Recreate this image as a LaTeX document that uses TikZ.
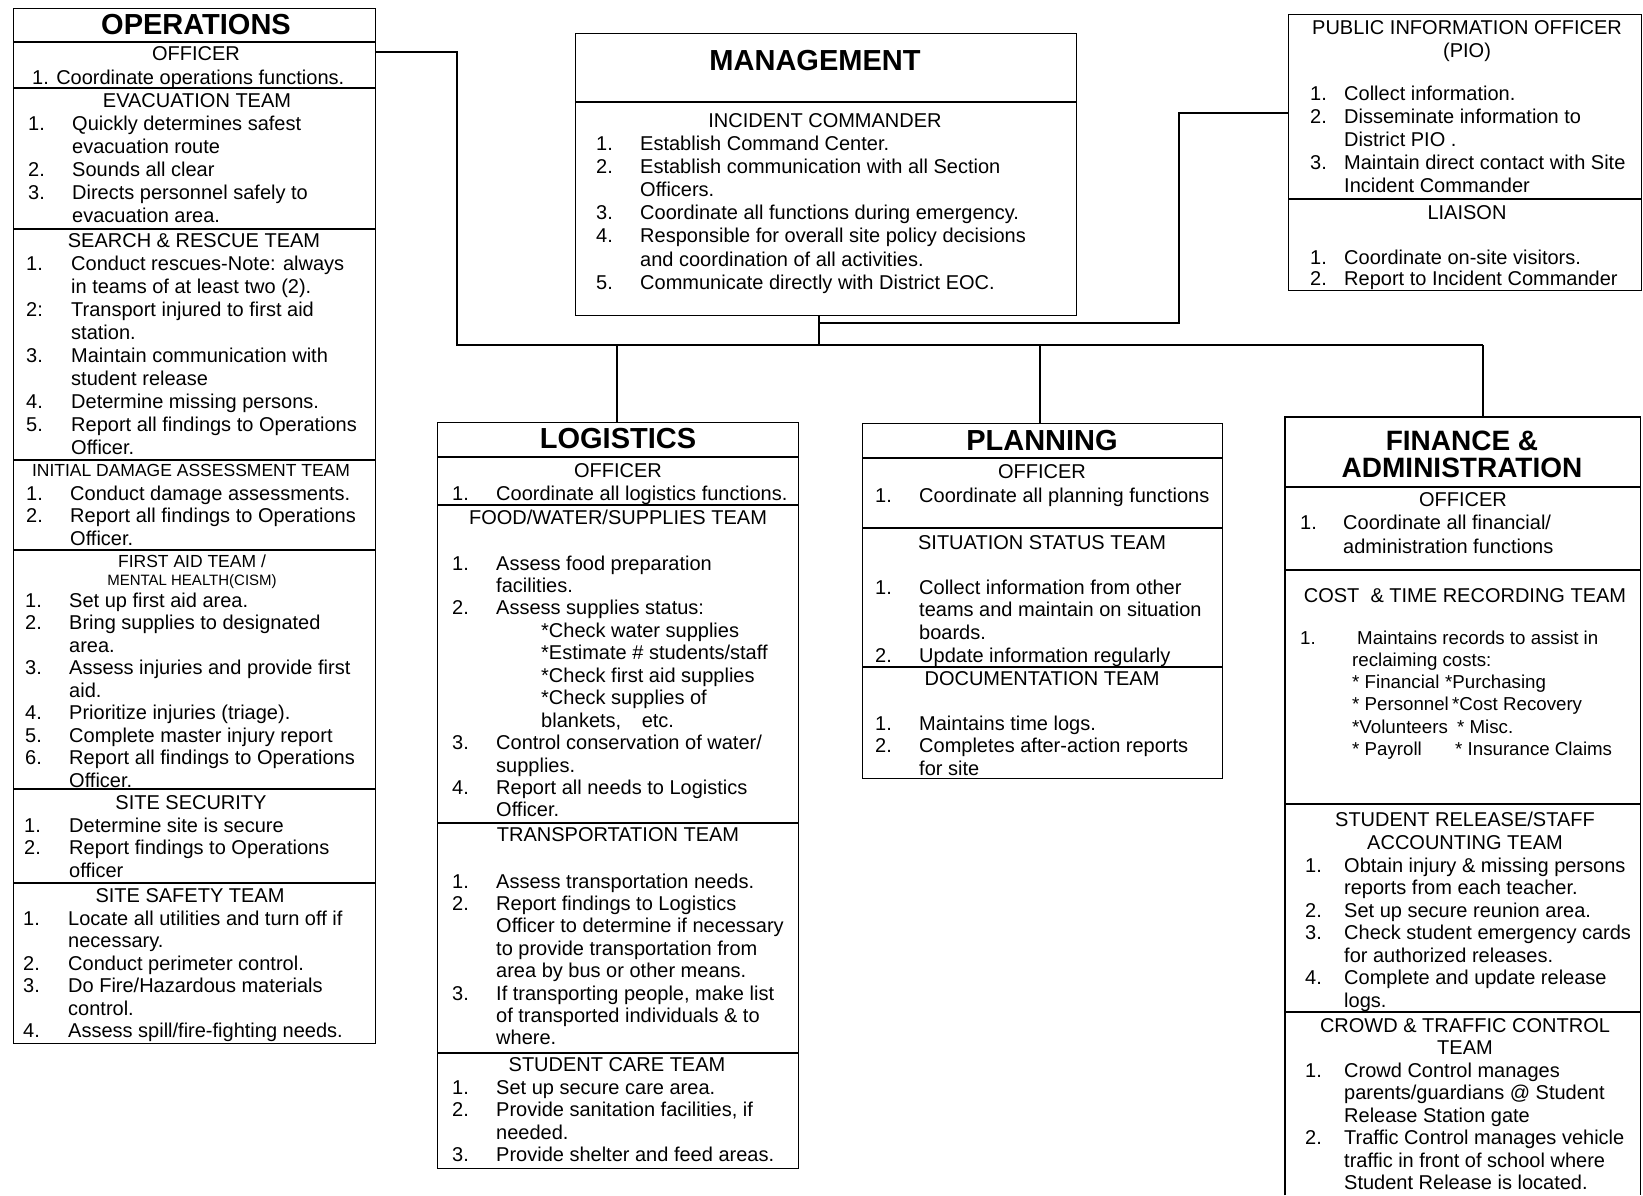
\documentclass[tikz,border=0pt]{standalone}
\usepackage{fontspec}
\setmainfont{Liberation Sans}
\usetikzlibrary{calc}
\newcommand\nb[1]{\llap{\makebox[\numw][l]{#1}}}
\newcommand\tl[1]{\begin{tabular}[t]{@{}l@{}}#1\end{tabular}}
\newcommand\tc[1]{\begin{tabular}[t]{@{}c@{}}#1\end{tabular}}
\newcommand\hdiv[3]{\draw[divline] (#1,#3) -- (#2,#3);}
\tikzset{
  numw/.store in=\numw, numw=44pt,
  box/.style={draw, line width=1.4pt, rectangle, inner sep=0pt, anchor=north west},
  divline/.style={line width=1.2pt},
  conn/.style={line width=1.3pt},
  ttl/.style={font=\fontsize{29}{30}\selectfont\bfseries, anchor=base, inner sep=0pt},
  hd/.style={font=\fontsize{20}{#1}\selectfont, anchor=base, inner sep=0pt},
  hd/.default=23,
  hds/.style={font=\fontsize{17.5}{18}\selectfont, anchor=base, inner sep=0pt},
  items/.style={font=\fontsize{20}{#1}\selectfont, anchor=base west, inner sep=0pt},
  items/.default=22.5,
}
\begin{document}
\begin{tikzpicture}[x=1pt,y=-1pt]
\useasboundingbox (0,0) rectangle (1643,1195);

% ---------------- boxes ----------------
\node[box, minimum width=362pt, minimum height=1035pt] (ops) at (13,8) {};
\node[box, minimum width=501pt, minimum height=282pt] (mgmt) at (575,33) {};
\node[box, minimum width=353pt, minimum height=276pt] (pio) at (1288,14) {};
\node[box, minimum width=361pt, minimum height=746pt] (log) at (437,422) {};
\node[box, minimum width=360pt, minimum height=355pt] (plan) at (862,423) {};
\node[inner sep=0pt, anchor=north west, minimum width=355pt, minimum height=778pt] (fin) at (1285,417) {};
\draw[line width=1.4pt] (fin.south west) -- (fin.north west) -- (fin.north east) -- (fin.south east);

% ---------------- dividers ----------------
\hdiv{13}{375}{42}\hdiv{13}{375}{88}\hdiv{13}{375}{229}\hdiv{13}{375}{460}
\hdiv{13}{375}{550}\hdiv{13}{375}{789}\hdiv{13}{375}{883}
\hdiv{575}{1076}{102}
\hdiv{1288}{1641}{199}
\hdiv{437}{798}{457}\hdiv{437}{798}{505}\hdiv{437}{798}{823}\hdiv{437}{798}{1053}
\hdiv{862}{1222}{458}\hdiv{862}{1222}{528}\hdiv{862}{1222}{667}
\hdiv{1285}{1640}{487}\hdiv{1285}{1640}{570}\hdiv{1285}{1640}{804}\hdiv{1285}{1640}{1012}

% ---------------- connectors ----------------
\coordinate (busL) at (457,345);
\coordinate (busR) at (1483,345);
\coordinate (mgdrop) at (819,345);
\coordinate (branch) at (819,323);
\coordinate (pioK) at (1179,113);
\coordinate (logT) at (617,345);
\coordinate (planT) at (1040,345);
\draw[conn] ($(ops.north east)+(0,44)$) -| (busL) -- (busR);
\draw[conn] (mgdrop |- mgmt.south) -- (mgdrop);
\draw[conn] (branch) -| (pioK) -- (pioK -| pio.west);
\draw[conn] (logT) -- (logT |- log.north);
\draw[conn] (planT) -- (planT |- plan.north);
\draw[conn] (busR) -- (busR |- fin.north);

% ---------------- OPERATIONS ----------------
\node[ttl] (ops-t) at (196,34) {OPERATIONS};
\node[hd] (ops-oh) at (196,60) {OFFICER};
\node[items] (ops-o) at (32,84) {1. Coordinate operations functions.};
\node[hd] (ops-eh) at (197,107) {EVACUATION TEAM};
\node[items=23.2, numw=44pt] (ops-e) at (72,130) {\tl{\nb{1.}Quickly determines safest\\evacuation route\\\nb{2.}Sounds all clear\\\nb{3.}Directs personnel safely to\\evacuation area.}};
\node[hd] (ops-sh) at (194,247) {SEARCH \& RESCUE TEAM};
\node[items=23, numw=45pt] (ops-s) at (71,270) {\tl{\nb{1.}Conduct rescues-Note: always\\in teams of at least two (2).\\\nb{2:}Transport injured to first aid\\station.\\\nb{3.}Maintain communication with\\student release\\\nb{4.}Determine missing persons.\\\nb{5.}Report all findings to Operations\\Officer.}};
\node[hds] (ops-ih) at (191,476) {INITIAL DAMAGE ASSESSMENT TEAM};
\node[items, numw=44pt] (ops-i) at (70,500) {\tl{\nb{1.}Conduct damage assessments.\\\nb{2.}Report all findings to Operations\\Officer.}};
\node[hds] (ops-fh) at (192,567) {FIRST AID TEAM /};
\node[font=\fontsize{15}{16}\selectfont, anchor=base, inner sep=0pt] (ops-fh2) at (192,585) {MENTAL HEALTH(CISM)};
\node[items, numw=44pt] (ops-f) at (69,607) {\tl{\nb{1.}Set up first aid area.\\\nb{2.}Bring supplies to designated\\area.\\\nb{3.}Assess injuries and provide first\\aid.\\\nb{4.}Prioritize injuries (triage).\\\nb{5.}Complete master injury report\\\nb{6.}Report all findings to Operations\\Officer.}};
\node[hd] (ops-ssh) at (191,809) {SITE SECURITY};
\node[items, numw=45pt] (ops-ss) at (69,832) {\tl{\nb{1.}Determine site is secure\\\nb{2.}Report findings to Operations\\officer}};
\node[hd] (ops-sfh) at (190,902) {SITE SAFETY TEAM};
\node[items, numw=45pt] (ops-sf) at (68,925) {\tl{\nb{1.}Locate all utilities and turn off if\\necessary.\\\nb{2.}Conduct perimeter control.\\\nb{3.}Do Fire/Hazardous materials\\control.\\\nb{4.}Assess spill/fire-fighting needs.}};

% ---------------- MANAGEMENT ----------------
\node[ttl] (m-t) at (815,70) {MANAGEMENT};
\node[hd] (m-h) at (825,127) {INCIDENT COMMANDER};
\node[items=23.2, numw=44pt] (m-i) at (640,150) {\tl{\nb{1.}Establish Command Center.\\\nb{2.}Establish communication with all Section\\Officers.\\\nb{3.}Coordinate all functions during emergency.\\\nb{4.}Responsible for overall site policy decisions\\and coordination of all activities.\\\nb{5.}Communicate directly with District EOC.}};

% ---------------- PIO / LIAISON ----------------
\node[hd] (p-h) at (1467,34) {\tc{PUBLIC INFORMATION OFFICER\\(PIO)}};
\node[items=23, numw=34pt] (p-i) at (1344,100) {\tl{\nb{1.}Collect information.\\\nb{2.}Disseminate information to\\District PIO .\\\nb{3.}Maintain direct contact with Site\\Incident Commander}};
\node[hd] (p-lh) at (1467,219) {LIAISON};
\node[items=21.5, numw=34pt] (p-l) at (1344,264) {\tl{\nb{1.}Coordinate on-site visitors.\\\nb{2.}Report to Incident Commander}};

% ---------------- LOGISTICS ----------------
\node[ttl] (l-t) at (618,448) {LOGISTICS};
\node[hd] (l-oh) at (618,477) {OFFICER};
\node[items, numw=44pt] (l-o) at (496,500) {\nb{1.}Coordinate all logistics functions.};
\node[hd] (l-fh) at (618,524) {FOOD/WATER/SUPPLIES TEAM};
\node[items=22.45, numw=44pt] (l-f) at (496,570) {\tl{\nb{1.}Assess food preparation\\facilities.\\\nb{2.}Assess supplies status:\\\hspace*{45pt}*Check water supplies\\\hspace*{45pt}*Estimate \# students/staff\\\hspace*{45pt}*Check first aid supplies\\\hspace*{45pt}*Check supplies of\\\hspace*{45pt}blankets,\hspace{15pt} etc.\\\nb{3.}Control conservation of water/\\supplies.\\\nb{4.}Report all needs to Logistics\\Officer.}};
\node[hd] (l-th) at (618,841) {TRANSPORTATION TEAM};
\node[items=22.4, numw=44pt] (l-tr) at (496,888) {\tl{\nb{1.}Assess transportation needs.\\\nb{2.}Report findings to Logistics\\Officer to determine if necessary\\to provide transportation from\\area by bus or other means.\\\nb{3.}If transporting people, make list\\of transported individuals \& to\\where.}};
\node[hd] (l-sh) at (617,1071) {STUDENT CARE TEAM};
\node[items, numw=44pt] (l-s) at (496,1094) {\tl{\nb{1.}Set up secure care area.\\\nb{2.}Provide sanitation facilities, if\\needed.\\\nb{3.}Provide shelter and feed areas.}};

% ---------------- PLANNING ----------------
\node[ttl] (pl-t) at (1042,450) {PLANNING};
\node[hd] (pl-oh) at (1042,478) {OFFICER};
\node[items, numw=44pt] (pl-o) at (919,502) {\nb{1.}Coordinate all planning functions};
\node[hd] (pl-sh) at (1042,549) {SITUATION STATUS TEAM};
\node[items=22.7, numw=44pt] (pl-s) at (919,594) {\tl{\nb{1.}Collect information from other\\teams and maintain on situation\\boards.\\\nb{2.}Update information regularly}};
\node[hd] (pl-dh) at (1042,685) {DOCUMENTATION TEAM};
\node[items, numw=44pt] (pl-d) at (919,730) {\tl{\nb{1.}Maintains time logs.\\\nb{2.}Completes after-action reports\\for site}};

% ---------------- FINANCE & ADMINISTRATION ----------------
\node[ttl, font=\fontsize{28}{30}\selectfont\bfseries] (f-t1) at (1462,450) {FINANCE \&};
\node[ttl, font=\fontsize{28}{30}\selectfont\bfseries] (f-t2) at (1462,477) {ADMINISTRATION};
\node[hd] (f-oh) at (1463,506) {OFFICER};
\node[items=24, numw=43pt] (f-o) at (1343,529) {\tl{\nb{1.}Coordinate all financial/\\administration functions}};
\node[hd] (f-ch) at (1465,602) {COST \ \& TIME RECORDING TEAM};
\node[items, font=\fontsize{18.7}{22.3}\selectfont, numw=52pt] (f-c) at (1352,644) {\tl{\nb{1.}\hspace*{5pt}Maintains records to assist in\\reclaiming costs:\\\makebox[93pt][l]{* Financial}*Purchasing\\\makebox[100pt][l]{* Personnel}*Cost Recovery\\\makebox[105pt][l]{*Volunteers}* Misc.\\\makebox[103pt][l]{* Payroll}* Insurance Claims}};
\node[hd] (f-sh) at (1465,826) {\tc{STUDENT RELEASE/STAFF\\ACCOUNTING TEAM}};
\node[items, numw=39pt] (f-s) at (1344,872) {\tl{\nb{1.}Obtain injury \& missing persons\\reports from each teacher.\\\nb{2.}Set up secure reunion area.\\\nb{3.}Check student emergency cards\\for authorized releases.\\\nb{4.}Complete and update release\\logs.}};
\node[hd=22] (f-xh) at (1465,1032) {\tc{CROWD \& TRAFFIC CONTROL\\TEAM}};
\node[items, numw=39pt] (f-x) at (1344,1077) {\tl{\nb{1.}Crowd Control manages\\parents/guardians @ Student\\Release Station gate\\\nb{2.}Traffic Control manages vehicle\\traffic in front of school where\\Student Release is located.}};
\end{tikzpicture}
\end{document}
